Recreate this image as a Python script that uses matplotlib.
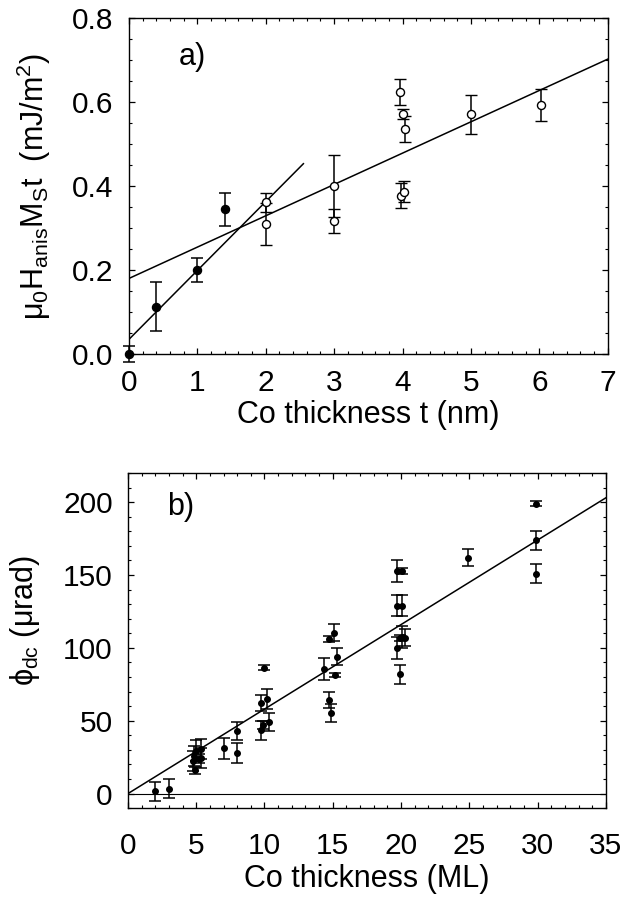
import matplotlib
matplotlib.use("Agg")
import matplotlib.pyplot as plt
import numpy as np
from matplotlib.ticker import MultipleLocator

plt.rcParams['font.family'] = ['Liberation Sans', 'DejaVu Sans']
plt.rcParams['mathtext.fontset'] = 'custom'
plt.rcParams['mathtext.rm'] = 'Liberation Sans'
plt.rcParams['mathtext.it'] = 'Liberation Sans'
plt.rcParams['mathtext.sf'] = 'Liberation Sans'

# --- panel a : filled points (small t) ---
a_full_t = [0.0, 0.4, 1.0, 1.4]
a_full_v = [0.0, 0.113, 0.200, 0.345]
a_full_e = [0.02, 0.058, 0.029, 0.039]

# --- panel a : open points ---
a_open_t = [2.0, 2.0, 3.0, 3.0, 3.96, 4.0, 4.04, 3.98, 4.02, 5.0, 6.02]
a_open_v = [0.361, 0.309, 0.400, 0.317, 0.623, 0.571, 0.536, 0.377, 0.386, 0.571, 0.592]
a_open_e = [0.022, 0.050, 0.073, 0.028, 0.031, 0.012, 0.030, 0.030, 0.025, 0.046, 0.038]

# fits in panel a (intercept, slope, x end)
fit1 = (0.035, 0.164, 2.55)
fit2 = (0.180, 0.0746, 7.0)

# --- panel b ---
b_ml = [2.0, 3.0, 4.75, 4.85, 4.9, 5.0, 5.2, 5.35, 5.35, 7.0, 8.0, 8.0,
        9.75, 9.75, 9.9, 9.95, 10.15, 10.35,
        14.35, 14.7, 14.9, 15.15, 15.3, 14.7, 15.1,
        19.7, 20.05, 19.7, 20.05, 19.7, 19.9, 19.9, 20.1, 20.3,
        24.9, 29.9, 29.9, 29.9]
b_phi = [1.5, 3.5, 22.5, 26.0, 16.0, 29.5, 24.0, 24.5, 30.5, 31.0, 43.0, 28.0,
         62.0, 43.5, 47.0, 86.5, 65.0, 49.0,
         85.5, 64.0, 55.5, 81.5, 94.0, 106.0, 110.5,
         153.0, 153.0, 129.0, 129.0, 100.0, 82.0, 106.5, 107.5, 107.0,
         162.0, 199.0, 174.0, 151.0]
b_err = [6.5, 6.5, 7.0, 7.0, 2.5, 7.0, 3.0, 7.0, 7.0, 7.5, 6.0, 7.0,
         5.5, 6.5, 2.5, 2.0, 7.0, 6.0,
         7.5, 5.5, 6.3, 1.5, 6.0, 2.0, 6.0,
         7.5, 2.0, 7.0, 7.0, 7.5, 6.5, 2.0, 7.5, 6.0,
         6.0, 1.5, 6.5, 6.8]
b_slope = 5.8

fig = plt.figure(figsize=(6.24, 9.02), dpi=100)
ax1 = fig.add_axes([0.2067, 0.6075, 0.7673, 0.3725])
ax2 = fig.add_axes([0.205, 0.104, 0.766, 0.3716])

# panel a
for b0, m, xe in (fit1, fit2):
    xx = np.array([0.0, xe])
    ax1.plot(xx, b0 + m * xx, color='black', lw=1.1, zorder=2)
ax1.errorbar(a_open_t, a_open_v, yerr=a_open_e, fmt='o', mfc='white', mec='black',
             ms=5.8, mew=1.0, ecolor='black', elinewidth=1.1, capsize=4, capthick=1.1, zorder=3)
ax1.errorbar(a_full_t, a_full_v, yerr=a_full_e, fmt='o', mfc='black', mec='black',
             ms=5.8, ecolor='black', elinewidth=1.1, capsize=4, capthick=1.1, zorder=3,
             clip_on=False)
ax1.set_xlim(0, 7)
ax1.set_ylim(0, 0.8)
ax1.xaxis.set_major_locator(MultipleLocator(1))
ax1.xaxis.set_minor_locator(MultipleLocator(0.2))
ax1.yaxis.set_major_locator(MultipleLocator(0.2))
ax1.yaxis.set_minor_locator(MultipleLocator(0.05))
ax1.yaxis.set_major_formatter(matplotlib.ticker.FormatStrFormatter('%.1f'))
ax1.set_xlabel('Co thickness t (nm)', fontsize=22, labelpad=2)
ax1.set_ylabel(r'$\mu_0$H$_{\rm anis}$M$_{\rm S}$t  (mJ/m$^2$)', fontsize=22, labelpad=14)
ax1.text(0.104, 0.884, 'a)', transform=ax1.transAxes, fontsize=22, ha='left', va='center')

# panel b
ax2.axhline(0, color='black', lw=0.8, zorder=1)
xb = np.array([0.0, 35.0])
ax2.plot(xb, b_slope * xb, color='black', lw=1.1, zorder=2)
ax2.errorbar(b_ml, b_phi, yerr=b_err, fmt='o', mfc='black', mec='black', ms=4,
             ecolor='black', elinewidth=1.1, capsize=4, capthick=1.1, zorder=3)
ax2.set_xlim(0, 35)
ax2.set_ylim(-10, 220)
ax2.xaxis.set_major_locator(MultipleLocator(5))
ax2.xaxis.set_minor_locator(MultipleLocator(1))
ax2.yaxis.set_major_locator(MultipleLocator(50))
ax2.yaxis.set_minor_locator(MultipleLocator(10))
ax2.set_xlabel('Co thickness (ML)', fontsize=22, labelpad=3)
ax2.set_ylabel(r'$\phi_{\rm dc}$ ($\mu$rad)', fontsize=22)
ax2.yaxis.set_label_coords(-0.18, 0.56)
ax2.text(0.082, 0.90, 'b)', transform=ax2.transAxes, fontsize=22, ha='left', va='center')

for ax in (ax1, ax2):
    ax.tick_params(which='both', direction='in', top=True, right=True, labelsize=21.5)
    ax.tick_params(axis='y', which='both', pad=11)
    ax.tick_params(which='major', length=4, width=0.9)
    ax.tick_params(which='minor', length=2.2, width=0.8)
    for s in ax.spines.values():
        s.set_linewidth(1.0)
ax1.tick_params(axis='x', which='both', pad=11)
ax2.tick_params(axis='x', which='both', pad=17)

fig.savefig('out.png', dpi=100)
